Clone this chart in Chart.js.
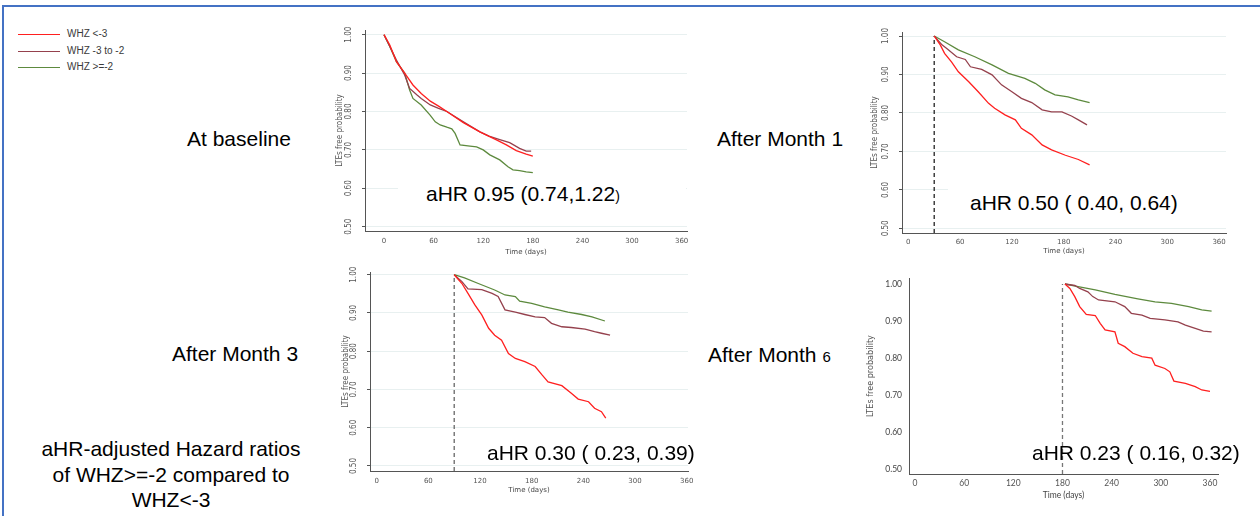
<!DOCTYPE html>
<html>
<head>
<meta charset="utf-8">
<script src="https://cdn.jsdelivr.net/npm/chart.js@4.4.1/dist/chart.umd.min.js"></script>
<style>
body { margin:0; width:1260px; height:516px; background:#fff; position:relative; overflow:hidden; font-family:'Liberation Sans', Arial, sans-serif; }
.frame { position:absolute; left:2px; top:5px; width:1300px; height:600px; border-left:2px solid #4472c4; border-top:2px solid #4472c4; }
canvas { position:absolute; }
.lbl { position:absolute; font-size:21px; line-height:24px; color:#000; white-space:nowrap; }
.leg { position:absolute; left:18px; font-size:10px; line-height:12px; color:#3a3a3a; white-space:nowrap; }
.leg i { display:inline-block; width:42px; height:1px; vertical-align:middle; margin-right:7px; }
</style>
</head>
<body>
<div class="frame"></div>
<div id="legend"></div>

<canvas id="p1" width="366" height="237" style="left:333px;top:20px"></canvas>
<canvas id="p2" width="368" height="235" style="left:870px;top:22px"></canvas>
<canvas id="p3" width="360" height="233" style="left:340px;top:262px"></canvas>
<canvas id="p4" width="366" height="233" style="left:864px;top:268px"></canvas>

<div class="lbl" style="left:187px;top:127px">At baseline</div>
<div class="lbl" style="left:717px;top:127px">After Month 1</div>
<div class="lbl" style="left:172px;top:342px">After Month 3</div>
<div class="lbl" style="left:708px;top:343px">After Month <span style="font-size:15px">6</span></div>
<div class="lbl" style="left:20px;top:436px;width:302px;text-align:center;line-height:25.5px">aHR-adjusted Hazard ratios<br>of WHZ&gt;=-2 compared to<br>WHZ&lt;-3</div>

<div class="lbl" style="left:398px;top:182px;width:260px;padding-left:28px;background:#fff">aHR 0.95 (0.74,1.22<span style="font-size:14px">)</span></div>
<div class="lbl" style="left:948px;top:186.5px;width:256px;padding-left:22px;padding-top:4px;background:#fff">aHR 0.50 ( 0.40, 0.64)</div>
<div class="lbl" style="left:487px;top:440.5px">aHR 0.30 ( 0.23, 0.39)</div>
<div class="lbl" style="left:1032px;top:440.5px">aHR 0.23 ( 0.16, 0.32)</div>

<script>
// groups (legend order) and colours
var groupNames = ['WHZ <-3', 'WHZ -3 to -2', 'WHZ >=-2'];
var groupColors = ['#ff1f1f', '#95414d', '#5d8a3e'];

// axis ticks
var xTickValues = [0, 60, 120, 180, 240, 300, 360];
var xTickLabels = ['0', '60', '120', '180', '240', '300', '360'];
var yTickValues = [0.5, 0.6, 0.7, 0.8, 0.9, 1.0];
var yTickLabels = ['0.50', '0.60', '0.70', '0.80', '0.90', '1.00'];

// start of follow-up for each panel (days)
var landmarkDays = [0, 30, 90, 180];

// At baseline
var base_red_t = [0, 7, 15, 25, 35, 45, 56, 66, 76, 96, 116, 136, 148, 160, 172, 180];
var base_red_s = [1, 0.973, 0.93, 0.90, 0.869, 0.847, 0.827, 0.814, 0.80, 0.771, 0.747, 0.726, 0.713, 0.698, 0.689, 0.684];
var base_mar_t = [0, 7, 15, 25, 31, 40, 45, 56, 66, 76, 96, 116, 127, 140, 152, 164, 172, 178];
var base_mar_s = [1, 0.969, 0.934, 0.895, 0.86, 0.843, 0.834, 0.817, 0.808, 0.80, 0.773, 0.747, 0.736, 0.727, 0.719, 0.704, 0.697, 0.697];
var base_grn_t = [0, 7, 15, 25, 31, 35, 45, 56, 62, 68, 76, 82, 86, 92, 104, 112, 120, 128, 140, 150, 156, 164, 172, 180];
var base_grn_s = [1, 0.969, 0.93, 0.90, 0.856, 0.834, 0.817, 0.79, 0.773, 0.765, 0.759, 0.755, 0.743, 0.713, 0.71, 0.708, 0.70, 0.687, 0.674, 0.656, 0.648, 0.646, 0.643, 0.641];

// After month 1
var m1_red_t = [30, 37, 42, 50, 58, 70, 81, 93, 100, 112, 124, 131, 143, 155, 166, 182, 197, 210];
var m1_red_s = [1, 0.977, 0.955, 0.933, 0.907, 0.881, 0.855, 0.825, 0.812, 0.795, 0.782, 0.76, 0.743, 0.717, 0.704, 0.69, 0.679, 0.665];
var m1_mar_t = [30, 39, 46, 56, 66, 72, 85, 97, 108, 120, 131, 143, 155, 166, 178, 189, 197, 207];
var m1_mar_s = [1, 0.977, 0.965, 0.946, 0.939, 0.92, 0.913, 0.899, 0.873, 0.855, 0.838, 0.827, 0.808, 0.803, 0.803, 0.792, 0.782, 0.769];
var m1_grn_t = [30, 42, 58, 77, 97, 116, 135, 147, 158, 170, 185, 197, 210];
var m1_grn_s = [1, 0.985, 0.964, 0.946, 0.925, 0.903, 0.89, 0.877, 0.86, 0.847, 0.842, 0.834, 0.827];

// After month 3
var m3_red_t = [90, 99, 106, 114, 122, 130, 137, 145, 153, 161, 172, 184, 192, 199, 215, 226, 234, 246, 253, 261, 266];
var m3_red_s = [1, 0.977, 0.951, 0.921, 0.895, 0.86, 0.842, 0.829, 0.794, 0.781, 0.773, 0.76, 0.738, 0.72, 0.71, 0.69, 0.675, 0.668, 0.651, 0.642, 0.625];
var m3_mar_t = [90, 99, 106, 122, 134, 141, 149, 161, 172, 184, 195, 203, 215, 226, 242, 253, 261, 271];
var m3_mar_s = [1, 0.982, 0.963, 0.961, 0.951, 0.943, 0.908, 0.902, 0.896, 0.89, 0.888, 0.873, 0.864, 0.862, 0.858, 0.851, 0.847, 0.842];
var m3_grn_t = [90, 102, 118, 137, 149, 161, 166, 180, 195, 211, 222, 238, 250, 265];
var m3_grn_s = [1, 0.992, 0.977, 0.96, 0.947, 0.943, 0.931, 0.925, 0.916, 0.908, 0.902, 0.896, 0.89, 0.879];

// After month 6
var m6_red_t = [183, 189, 195, 201, 209, 220, 226, 232, 244, 248, 256, 266, 277, 289, 293, 305, 311, 316, 330, 342, 350, 360];
var m6_red_s = [1, 0.988, 0.966, 0.939, 0.918, 0.915, 0.894, 0.876, 0.871, 0.84, 0.831, 0.813, 0.804, 0.80, 0.781, 0.772, 0.763, 0.738, 0.732, 0.723, 0.714, 0.71];
var m6_mar_t = [183, 195, 201, 211, 217, 224, 244, 256, 264, 277, 287, 305, 321, 330, 342, 352, 362];
var m6_mar_s = [1, 0.996, 0.988, 0.979, 0.966, 0.957, 0.952, 0.939, 0.921, 0.916, 0.907, 0.903, 0.898, 0.889, 0.88, 0.873, 0.871];
var m6_grn_t = [183, 199, 220, 244, 272, 293, 313, 334, 350, 362];
var m6_grn_s = [1, 0.993, 0.984, 0.972, 0.96, 0.952, 0.948, 0.939, 0.93, 0.927];

var narrow = "'Liberation Sans Narrow', 'DejaVu Sans Condensed', 'Arial Narrow', sans-serif";

// legend
var legend = document.getElementById('legend');
var legendTops = [28, 45, 61];
groupNames.forEach(function (name, i) {
    var row = document.createElement('div');
    row.className = 'leg';
    row.style.top = legendTops[i] + 'px';
    var sw = document.createElement('i');
    sw.style.background = groupColors[i];
    row.appendChild(sw);
    row.appendChild(document.createTextNode(name));
    legend.appendChild(row);
});

function pts(t, s) {
    return t.map(function (v, i) { return { x: v, y: s[i] }; });
}

var panels = [
    { id: 'p1', curves: [[base_red_t, base_red_s], [base_mar_t, base_mar_s], [base_grn_t, base_grn_s]], land: landmarkDays[0],
      x: [-22.98, 366.5], y: [0.4888, 1.0122], yw: 32, xh: 26, stata: true, tickPad: 6, titlePad: 1, yTitlePad: 2 },
    { id: 'p2', curves: [[m1_red_t, m1_red_s], [m1_mar_t, m1_mar_s], [m1_grn_t, m1_grn_s]], land: landmarkDays[1], dash: '#222',
      x: [-7.3, 368.0], y: [0.4879, 1.0104], yw: 32, xh: 24, stata: true, tickPad: 5, titlePad: 2, yTitlePad: 0 },
    { id: 'p3', curves: [[m3_red_t, m3_red_s], [m3_mar_t, m3_mar_s], [m3_grn_t, m3_grn_s]], land: landmarkDays[2], dash: '#666',
      x: [-7.78, 361.5], y: [0.4869, 1.0071], yw: 30, xh: 24, stata: true, tickPad: 6, titlePad: 1, yTitlePad: 1 },
    { id: 'p4', curves: [[m6_red_t, m6_red_s], [m6_mar_t, m6_mar_s], [m6_grn_t, m6_grn_s]], land: landmarkDays[3], dash: '#777',
      x: [-7.32, 369.8], y: [0.4873, 1.0162], yw: 45, xh: 27, stata: false, tickPad: 4, titlePad: 1, yTitlePad: 1 }
];

panels.forEach(function (p) {
    var datasets = p.curves.map(function (c, i) {
        return {
            label: groupNames[i],
            data: pts(c[0], c[1]),
            borderColor: groupColors[i],
            borderWidth: 1.3,
            pointRadius: 0,
            showLine: true,
            tension: 0
        };
    });
    if (p.land > 0) {
        datasets.push({
            label: 'landmark',
            data: [{ x: p.land, y: p.y[0] }, { x: p.land, y: 1 }],
            borderColor: p.dash,
            borderWidth: 1.3,
            borderDash: [4, 3],
            pointRadius: 0,
            showLine: true
        });
    }

    var xFont = p.stata ? { family: "'DejaVu Sans', sans-serif", size: 7 } : { family: 'Lato, sans-serif', size: 8.5 };
    var yTicks = p.stata
        ? { minRotation: 90, maxRotation: 90, crossAlign: 'center', padding: 5, color: '#555', font: { family: narrow, size: 8 } }
        : { padding: 7, color: '#444', font: { family: 'Lato, sans-serif', size: 8.5 } };
    yTicks.callback = function (v, i) { return yTickLabels[i]; };

    new Chart(document.getElementById(p.id), {
        type: 'scatter',
        data: { datasets: datasets },
        options: {
            responsive: false,
            animation: false,
            devicePixelRatio: 1,
            layout: { padding: { top: 10, right: 12, left: 0, bottom: 0 } },
            plugins: { legend: { display: false }, tooltip: { enabled: false } },
            scales: {
                x: {
                    type: 'linear', min: p.x[0], max: p.x[1],
                    afterBuildTicks: function (s) { s.ticks = xTickValues.map(function (v) { return { value: v }; }); },
                    afterFit: function (s) { s.height = p.xh; s.paddingLeft = 0; s.paddingRight = 0; },
                    grid: { display: false, drawTicks: false },
                    border: { display: true, color: '#555', width: 1 },
                    ticks: { padding: p.tickPad, color: '#555', font: xFont, maxRotation: 0, autoSkip: false,
                        callback: function (v, i) { return xTickLabels[i]; } },
                    title: { display: true, text: 'Time (days)', color: '#444', font: xFont, padding: { top: 0, bottom: p.titlePad } }
                },
                y: {
                    type: 'linear', min: p.y[0], max: p.y[1],
                    afterBuildTicks: function (s) { s.ticks = yTickValues.map(function (v) { return { value: v }; }); },
                    afterFit: function (s) { s.width = p.yw; s.paddingTop = 0; s.paddingBottom = 0; },
                    grid: p.stata
                        ? { display: true, color: '#e8f0f0', lineWidth: 1, drawTicks: true, tickLength: 3, tickColor: '#555' }
                        : { display: false, drawTicks: false },
                    border: { display: true, color: '#555', width: 1 },
                    ticks: yTicks,
                    title: { display: true, text: 'LTEs free probability', color: '#555',
                        font: { family: narrow, size: p.stata ? 8 : 9 }, padding: { top: p.yTitlePad, bottom: 0 } }
                }
            }
        }
    });
});
</script>
</body>
</html>
